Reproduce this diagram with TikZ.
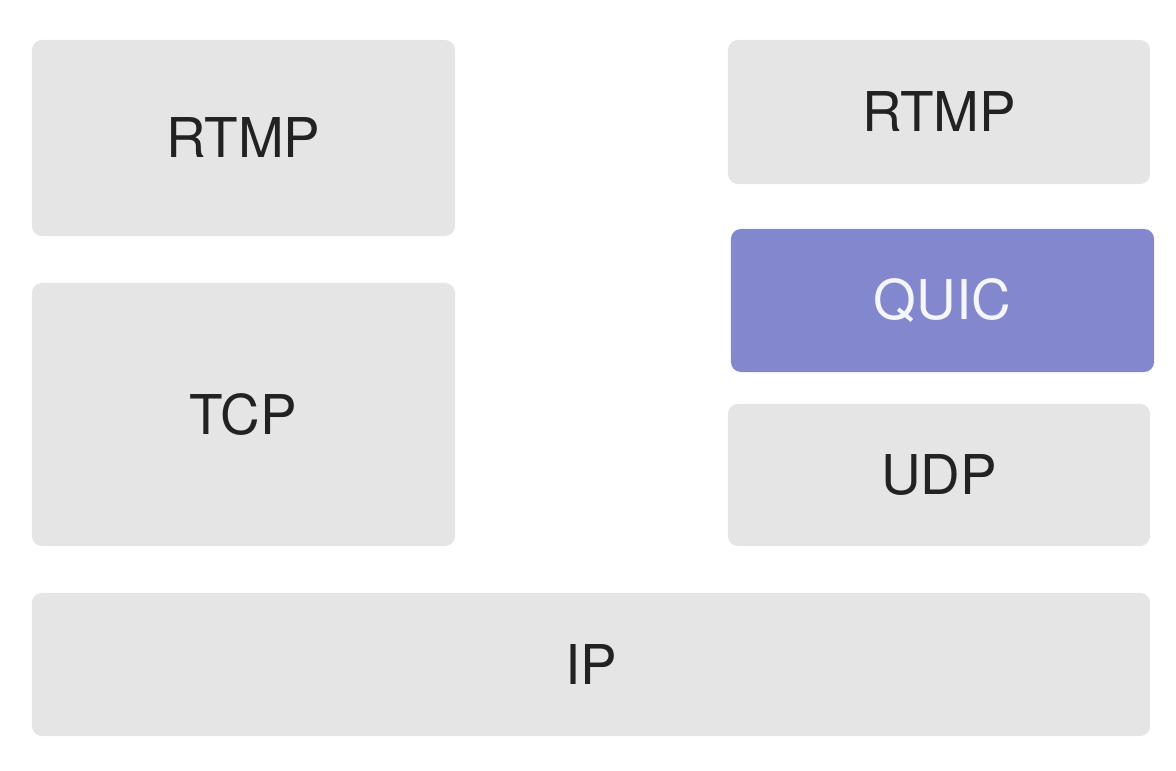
\documentclass[tikz,border=0pt]{standalone}
\usepackage{fontspec}
\setmainfont{TeX Gyre Heros}
\usepackage{tikz}
\definecolor{layerGrey}{HTML}{E5E5E6}
\definecolor{quicBlue}{HTML}{8388CE}
\definecolor{layerText}{HTML}{222222}

\begin{document}
\begin{tikzpicture}[x=0.025cm,y=-0.025cm]
	\tikzset{layer/.style={fill=layerGrey, rounded corners=0.25cm, inner sep=0pt, text=layerText,
			font=\fontsize{39}{44}\selectfont}}
	\useasboundingbox (0,0) rectangle (1176,770);
	
	\pgfmathsetmacro\boxWidth{(10.575)} % 423px
	\pgfmathsetmacro\xLeft{(243.5)}
	\pgfmathsetmacro\xRight{(939)}
	
	% left stack: RTMP over TCP
	\node (rtmpLeft) at (\xLeft, 138) [layer, minimum width=\boxWidth cm, minimum height=4.9cm] {RTMP};
	\node (tcp) at (\xLeft, 414.5) [layer, minimum width=\boxWidth cm, minimum height=6.575cm] {TCP};
	
	% right stack: RTMP over QUIC over UDP
	\node (rtmpRight) at (\xRight, 112) [layer, minimum width=10.55cm, minimum height=3.6cm] {RTMP};
	\node (quic) at (\xRight + 3.5, 300.5) [layer, fill=quicBlue, text=white!92!quicBlue, minimum width=\boxWidth cm, minimum height=3.575cm] {QUIC};
	\node (udp) at (\xRight, 475) [layer, minimum width=10.55cm, minimum height=3.55cm] {UDP};
	
	% shared bottom layer
	\node (ip) at (591, 664.5) [layer, minimum width=27.95cm, minimum height=3.575cm] {IP};
\end{tikzpicture}
\end{document}
